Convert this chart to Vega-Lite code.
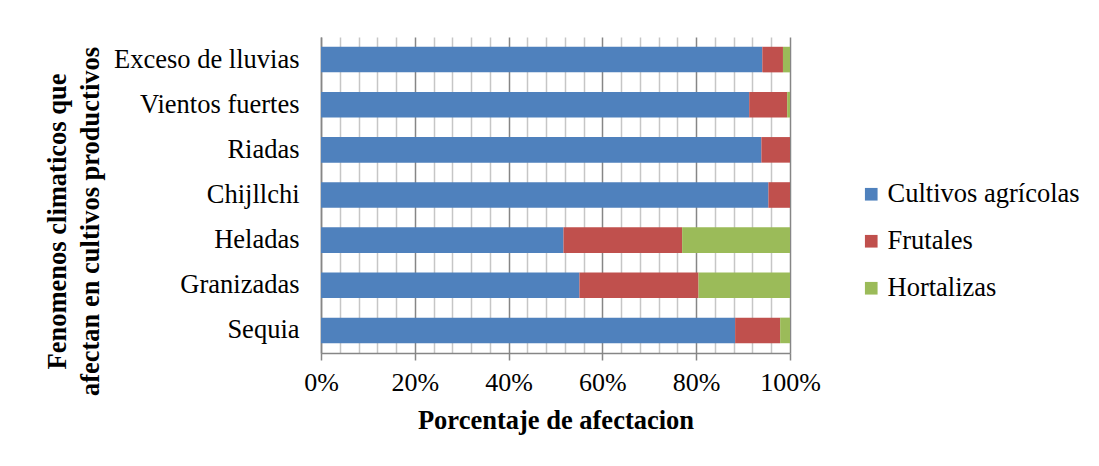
{
  "$schema": "https://vega.github.io/schema/vega-lite/v6.json",
  "width": 469,
  "height": 316,
  "autosize": {"type": "none"},
  "padding": {"left": 321, "top": 37, "right": 309, "bottom": 113},
  "background": "white",
  "data": {
    "values": [
      {"fenomeno": "Exceso de lluvias", "tipo": "Cultivos agrícolas", "valor": 94.1},
      {"fenomeno": "Exceso de lluvias", "tipo": "Frutales", "valor": 4.4},
      {"fenomeno": "Exceso de lluvias", "tipo": "Hortalizas", "valor": 1.5},
      {"fenomeno": "Vientos fuertes", "tipo": "Cultivos agrícolas", "valor": 91.3},
      {"fenomeno": "Vientos fuertes", "tipo": "Frutales", "valor": 8.1},
      {"fenomeno": "Vientos fuertes", "tipo": "Hortalizas", "valor": 0.6},
      {"fenomeno": "Riadas", "tipo": "Cultivos agrícolas", "valor": 93.9},
      {"fenomeno": "Riadas", "tipo": "Frutales", "valor": 6.1},
      {"fenomeno": "Chijllchi", "tipo": "Cultivos agrícolas", "valor": 95.4},
      {"fenomeno": "Chijllchi", "tipo": "Frutales", "valor": 4.6},
      {"fenomeno": "Heladas", "tipo": "Cultivos agrícolas", "valor": 51.7},
      {"fenomeno": "Heladas", "tipo": "Frutales", "valor": 25.3},
      {"fenomeno": "Heladas", "tipo": "Hortalizas", "valor": 23.0},
      {"fenomeno": "Granizadas", "tipo": "Cultivos agrícolas", "valor": 55.1},
      {"fenomeno": "Granizadas", "tipo": "Frutales", "valor": 25.4},
      {"fenomeno": "Granizadas", "tipo": "Hortalizas", "valor": 19.5},
      {"fenomeno": "Sequia", "tipo": "Cultivos agrícolas", "valor": 88.3},
      {"fenomeno": "Sequia", "tipo": "Frutales", "valor": 9.6},
      {"fenomeno": "Sequia", "tipo": "Hortalizas", "valor": 2.1}
    ]
  },
  "mark": {"type": "bar"},
  "encoding": {
    "y": {
      "field": "fenomeno",
      "type": "nominal",
      "sort": ["Exceso de lluvias", "Vientos fuertes", "Riadas", "Chijllchi", "Heladas", "Granizadas", "Sequia"],
      "scale": {"paddingInner": 0.433, "paddingOuter": 0.2165},
      "axis": {
        "title": ["Fenomenos climaticos que", "afectan en cultivos productivos"],
        "titleFont": "Liberation Serif",
        "titleFontSize": 26.5,
        "titleFontWeight": "bold",
        "titleColor": "black",
        "titleAngle": -90,
        "titleAlign": "center",
        "titleBaseline": "middle",
        "titleLineHeight": 33,
        "titleX": -264,
        "titleY": 184,
        "labelFont": "Liberation Serif",
        "labelFontSize": 26.5,
        "labelColor": "black",
        "labelPadding": 22,
        "labelLimit": 300,
        "ticks": false,
        "domainColor": "#868686",
        "domainWidth": 1.5
      }
    },
    "x": {
      "field": "valor",
      "type": "quantitative",
      "stack": "normalize",
      "scale": {"domain": [0, 1], "nice": false},
      "axis": {
        "title": "Porcentaje de afectacion",
        "titleFont": "Liberation Serif",
        "titleFontSize": 26.5,
        "titleFontWeight": "bold",
        "titleColor": "black",
        "titlePadding": 12,
        "values": [0, 0.04, 0.08, 0.12, 0.16, 0.2, 0.24, 0.28, 0.32, 0.36, 0.4, 0.44, 0.48, 0.52, 0.56, 0.6, 0.64, 0.68, 0.72, 0.76, 0.8, 0.84, 0.88, 0.92, 0.96, 1],
        "labelExpr": "abs(datum.value*5 - round(datum.value*5)) < 0.001 ? format(datum.value, '.0%') : ''",
        "labelFont": "Liberation Serif",
        "labelFontSize": 26,
        "labelColor": "black",
        "labelFlush": false,
        "labelOverlap": false,
        "labelPadding": 9,
        "grid": true,
        "gridColor": {"condition": {"test": "abs(datum.value*5 - round(datum.value*5)) < 0.001", "value": "#868686"}, "value": "#c6c6c6"},
        "gridWidth": 1.5,
        "tickColor": {"condition": {"test": "abs(datum.value*5 - round(datum.value*5)) < 0.001", "value": "#868686"}, "value": "transparent"},
        "tickSize": 7,
        "tickWidth": 1.5,
        "domainColor": "#868686",
        "domainWidth": 1.5
      }
    },
    "color": {
      "field": "tipo",
      "type": "nominal",
      "scale": {
        "domain": ["Cultivos agrícolas", "Frutales", "Hortalizas"],
        "range": ["#4F81BD", "#C0504D", "#9BBB59"]
      },
      "legend": {
        "title": null,
        "orient": "none",
        "legendX": 537,
        "legendY": 144,
        "symbolType": "square",
        "symbolSize": 160,
        "symbolStrokeWidth": 0,
        "labelFont": "Liberation Serif",
        "labelFontSize": 26.5,
        "labelColor": "black",
        "labelLimit": 400,
        "labelOffset": 3,
        "rowPadding": 20
      }
    },
    "order": {"field": "tipo", "sort": "ascending"}
  },
  "config": {"view": {"stroke": null}}
}
